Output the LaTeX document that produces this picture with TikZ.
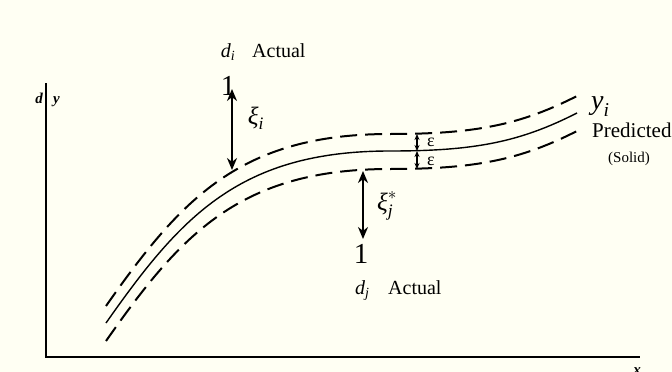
\documentclass[tikz,border=0pt]{standalone}
\usepackage{amsmath}
\usepackage{fontspec}
\setmainfont{Liberation Serif}
\usetikzlibrary{arrows.meta}
\definecolor{papercream}{RGB}{255,255,243}

\begin{document}
\begin{tikzpicture}[x=1pt,y=-1pt,
  fitline/.style={line width=1.4pt},
  tube/.style={line width=2pt,dash pattern=on 17pt off 8pt},
  devarrow/.style={line width=2pt,{Stealth[length=12pt,width=10pt]}-{Stealth[length=12pt,width=10pt]}},
  epsarrow/.style={line width=1.2pt,{Stealth[length=6pt,width=5pt]}-{Stealth[length=6pt,width=5pt]}},
  lab/.style={inner sep=0pt,font=\fontsize{20}{24}\selectfont}]
  \fill[papercream] (0,0) rectangle (672,372);
  \useasboundingbox (0,0) rectangle (672,372);
  % axes
  \coordinate (ytop) at (46,83);
  \coordinate (o) at (46,357);
  \coordinate (xend) at (640,357);
  \draw[line width=1.3pt] (ytop) -- (o) -- (xend);
  \node[lab,anchor=base east,font=\fontsize{15}{18}\selectfont\bfseries\itshape] (dlab) at (43,103) {d};
  \node[lab,anchor=base west,font=\fontsize{15}{18}\selectfont\bfseries\itshape] (ylab) at (53,103) {y};
  \node[lab,anchor=base,font=\fontsize{15}{18}\selectfont\bfseries\itshape] (xlab) at (637,374) {x};
  % predicted curve and the epsilon tube
  \draw[fitline] (106,323) .. controls (181,216) and (240,151) .. (390,151)
    .. controls (475,151) and (520,142) .. (577,113);
  \foreach \dy in {17,-18}
    \draw[tube,yshift=\dy pt] (106,323) .. controls (181,216) and (240,151) .. (390,151)
      .. controls (475,151) and (520,142) .. (577,113);
  \node[lab,anchor=base west,font=\fontsize{28}{30}\selectfont] (yi) at (591,109) {$\textit{y}_{\textit{i}}$};
  \node[lab,anchor=base west,font=\fontsize{21}{24}\selectfont] (pred) at (592,137) {Predicted};
  \node[lab,anchor=base west,font=\fontsize{15}{18}\selectfont] (solid) at (608,162) {(Solid)};
  % epsilon arrows
  \coordinate (epsa) at (417,134);
  \coordinate (epsb) at (417,151);
  \coordinate (epsc) at (417,169);
  \draw[epsarrow] (epsa) -- (epsb);
  \draw[epsarrow] (epsb) -- (epsc);
  \node[lab,font=\fontsize{18}{20}\selectfont] (epsup) at (431,142) {ε};
  \node[lab,font=\fontsize{18}{20}\selectfont] (epsdn) at (431,161) {ε};
  % actual point above the tube
  \node[lab,anchor=base] (dilab) at (228,57) {$\textit{d}_{\textit{i}}$};
  \node[lab,anchor=base west] (acti) at (252,57) {Actual};
  \node[lab,anchor=base,font=\fontsize{29}{30}\selectfont] (onei) at (228,95) {1};
  \coordinate (xitop) at (232,89);
  \coordinate (xibot) at (232,170);
  \draw[devarrow] (xitop) -- (xibot);
  \node[lab,font=\fontsize{25}{28}\selectfont] (xii) at (256,118) {$\textit{ξ}_{\textit{i}}$};
  % actual point below the tube
  \coordinate (xjtop) at (363,171);
  \coordinate (xjbot) at (363,239);
  \draw[devarrow] (xjtop) -- (xjbot);
  \node[lab,font=\fontsize{25}{28}\selectfont] (xij) at (387,206) {$\textit{ξ}_{\textit{j}}^{*}$};
  \node[lab,anchor=base,font=\fontsize{29}{30}\selectfont] (onej) at (361,263) {1};
  \node[lab,anchor=base west] (djlab) at (355,294) {$\textit{d}_{\textit{j}}$};
  \node[lab,anchor=base west] (actj) at (388,294) {Actual};
\end{tikzpicture}
\end{document}
